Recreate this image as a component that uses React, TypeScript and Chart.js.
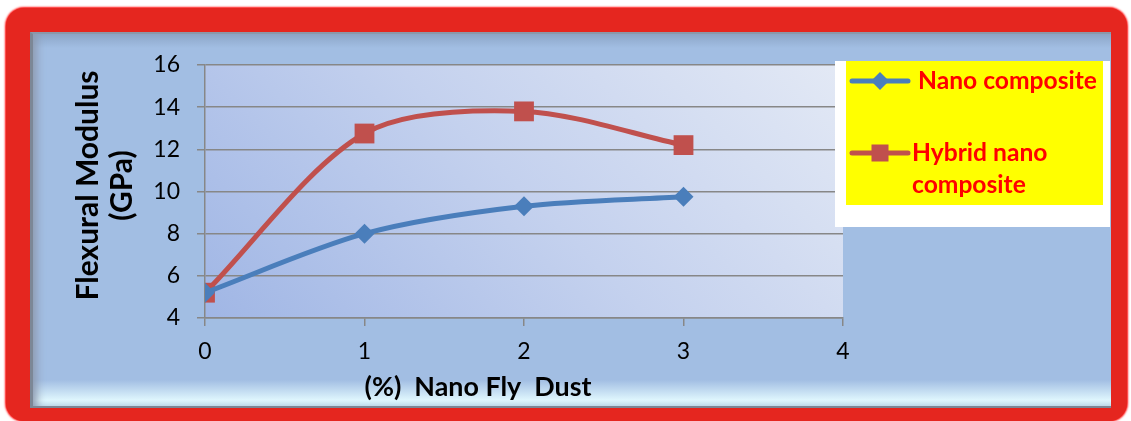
import React, { useEffect, useRef } from 'react';
import { Chart, registerables } from 'chart.js';

Chart.register(...registerables);

// ---- data ----
const xValues = [0, 1, 2, 3];
const nanoComposite = [5.2, 8.0, 9.3, 9.75];
const hybridNanoComposite = [5.2, 12.75, 13.8, 12.2];
const xTickValues = [0, 1, 2, 3, 4];
const yTickValues = [4, 6, 8, 10, 12, 14, 16];
const seriesLabels = ['Nano composite', 'Hybrid nano composite'];
const legendLines = [['Nano composite'], ['Hybrid nano', 'composite']];
const yTitleLines = ['Flexural Modulus', '(GPa)'];
const xTitleText = '(%)  Nano Fly  Dust';

const FONT = 'Lato, "Open Sans", "DejaVu Sans", sans-serif';
const BLUE = '#4a7ebb';
const RED = '#c0504d';
const GRID = '#878787';

function fitFont(ctx: CanvasRenderingContext2D, text: string, width: number, weight = 'bold') {
  let size = 30;
  ctx.font = `${weight} ${size}px ${FONT}`;
  const w = ctx.measureText(text).width;
  size = (size * width) / w;
  return size;
}

function drawDiamond(ctx: CanvasRenderingContext2D, x: number, y: number, r: number, color: string) {
  ctx.beginPath();
  ctx.moveTo(x, y - r);
  ctx.lineTo(x + r, y);
  ctx.lineTo(x, y + r);
  ctx.lineTo(x - r, y);
  ctx.closePath();
  ctx.fillStyle = color;
  ctx.fill();
}

function drawSquare(ctx: CanvasRenderingContext2D, x: number, y: number, s: number, color: string) {
  ctx.fillStyle = color;
  ctx.fillRect(x - s / 2, y - s / 2, s, s);
}

const decorPlugin = {
  id: 'decor',
  beforeDraw(chart: any) {
    const { ctx, chartArea: a } = chart;
    ctx.save();
    const w = a.right - a.left;
    const h = a.bottom - a.top;
    const d = (w + h) / 2;
    const g = ctx.createLinearGradient(a.left, a.bottom, a.left + d, a.bottom - d);
    g.addColorStop(0, '#a0b6e5');
    g.addColorStop(0.5, '#c4d1ee');
    g.addColorStop(1, '#e3e9f5');
    ctx.fillStyle = g;
    ctx.fillRect(a.left, a.top, w, h);
    ctx.restore();
  },
  afterDraw(chart: any) {
    const { ctx, chartArea: a } = chart;
    ctx.save();
    // Y axis title (two rotated lines)
    const yCenter = (a.top + a.bottom) / 2 - 6;
    const ySize = fitFont(ctx, yTitleLines[0], 230);
    ctx.font = `bold ${ySize}px ${FONT}`;
    ctx.fillStyle = '#000';
    ctx.textAlign = 'center';
    ctx.textBaseline = 'middle';
    const yOffsets = [-117, -83];
    yTitleLines.forEach((line, i) => {
      ctx.save();
      ctx.translate(a.left + yOffsets[i], yCenter);
      ctx.rotate(-Math.PI / 2);
      ctx.fillText(line, 0, 0);
      ctx.restore();
    });
    // X axis title
    const xSize = fitFont(ctx, xTitleText, 227);
    ctx.font = `bold ${xSize}px ${FONT}`;
    ctx.fillText(xTitleText, a.left + 273, a.bottom + 69);

    // Legend
    const bx = a.right - 8;
    const by = a.top - 4;
    ctx.fillStyle = '#ffffff';
    ctx.fillRect(bx, by, 275, 166);
    ctx.fillStyle = '#ffff00';
    ctx.fillRect(bx + 11, by, 257, 144);

    const lSize = fitFont(ctx, legendLines[0][0], 179);
    ctx.font = `bold ${lSize}px ${FONT}`;
    ctx.textAlign = 'left';
    ctx.fillStyle = '#ff0000';
    const rows = [
      { y: by + 20, color: BLUE, marker: 'diamond', textX: bx + 83 },
      { y: by + 92, color: RED, marker: 'square', textX: bx + 77 },
    ];
    rows.forEach((r, i) => {
      ctx.strokeStyle = r.color;
      ctx.lineWidth = 5;
      ctx.lineCap = 'round';
      ctx.beginPath();
      ctx.moveTo(bx + 17, r.y);
      ctx.lineTo(bx + 73, r.y);
      ctx.stroke();
      if (r.marker === 'diamond') drawDiamond(ctx, bx + 45, r.y, 9, r.color);
      else drawSquare(ctx, bx + 45, r.y, 17, r.color);
      ctx.fillStyle = '#ff0000';
      legendLines[i].forEach((t, j) => {
        ctx.fillText(t, r.textX, r.y + j * 32);
      });
    });
    ctx.restore();
  },
};

export default function App() {
  const ref = useRef<HTMLCanvasElement>(null);

  useEffect(() => {
    if (!ref.current) return;
    const chart = new Chart(ref.current, {
      type: 'line',
      data: {
        datasets: [
          {
            label: seriesLabels[0],
            data: xValues.map((x, i) => ({ x, y: nanoComposite[i] })),
            borderColor: BLUE,
            backgroundColor: BLUE,
            borderWidth: 5,
            pointStyle: 'rectRot',
            pointRadius: 10,
            pointBorderWidth: 0,
            tension: 0.3,
            fill: false,
          },
          {
            label: seriesLabels[1],
            data: xValues.map((x, i) => ({ x, y: hybridNanoComposite[i] })),
            borderColor: RED,
            backgroundColor: RED,
            borderWidth: 5,
            pointStyle: 'rect',
            pointRadius: 14,
            pointBorderWidth: 0,
            tension: 0.3,
            fill: false,
          },
        ],
      },
      options: {
        animation: false,
        responsive: false,
        maintainAspectRatio: false,
        layout: { padding: { left: 150, top: 65, right: 288, bottom: 40 } },
        plugins: {
          legend: { display: false },
          tooltip: { enabled: false },
        },
        scales: {
          x: {
            type: 'linear',
            min: 0,
            max: 4,
            afterBuildTicks: (s: any) => {
              s.ticks = xTickValues.map((v) => ({ value: v }));
            },
            afterFit: (s: any) => {
              s.height = 63;
            },
            grid: { drawOnChartArea: false, drawTicks: true, tickLength: 8, color: GRID, lineWidth: 1.5 },
            border: { display: true, color: GRID, width: 1.5 },
            ticks: { font: { family: FONT, size: 23 }, color: '#000', padding: 12, maxRotation: 0 },
          },
          y: {
            type: 'linear',
            min: 4,
            max: 16,
            afterBuildTicks: (s: any) => {
              s.ticks = yTickValues.map((v) => ({ value: v }));
            },
            afterFit: (s: any) => {
              s.width = 55;
            },
            grid: { drawTicks: true, tickLength: 8, color: GRID, lineWidth: 1.5 },
            border: { display: true, color: GRID, width: 1.5 },
            ticks: { font: { family: FONT, size: 23 }, color: '#000', padding: 17 },
          },
        },
      },
      plugins: [decorPlugin],
    } as any);
    return () => chart.destroy();
  }, []);

  return (
    <div style={{ position: 'absolute', left: 0, top: 0, width: 1131, height: 421, background: '#fff', overflow: 'hidden' }}>
      <div
        style={{
          position: 'absolute',
          left: 6,
          top: 8,
          width: 1121,
          height: 413,
          borderRadius: 18,
          background: '#e5261f',
          boxShadow: '0 0 2px 1px #ff1010',
        }}
      />
      <div
        style={{
          position: 'absolute',
          left: 30,
          top: 32,
          width: 1081,
          height: 376,
          boxSizing: 'border-box',
          borderLeft: '3px solid #7c8796',
          borderTop: '2px solid #8a98aa',
          borderBottom: '2px solid #7c8796',
          background:
            'linear-gradient(to bottom, #8ca6c8 0px, #a2bee3 14px, #a2bee3 calc(100% - 26px), #dff6fd calc(100% - 6px), #c9e6f5 100%)',
          boxShadow: 'inset 8px 0 8px -4px #8e9bb0',
        }}
      />
      <canvas ref={ref} width={1131} height={421} style={{ position: 'absolute', left: 0, top: 0 }} />
    </div>
  );
}
